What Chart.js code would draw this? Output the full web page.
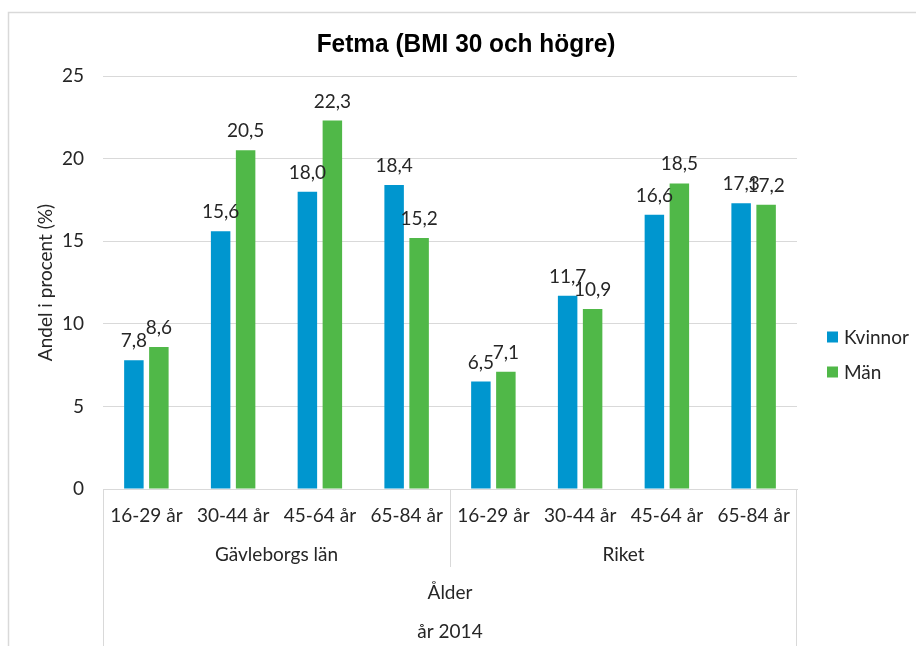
<!DOCTYPE html>
<html>
<head>
<meta charset="utf-8">
<script src="https://cdn.jsdelivr.net/npm/chart.js@4.4.1/dist/chart.umd.min.js"></script>
<style>
    html, body { margin: 0; padding: 0; background: #fff; }
    #wrap { width: 916px; height: 646px; position: relative; }
</style>
</head>
<body>
<div id="wrap"><canvas id="fetmaChart"></canvas></div>
<script>
// Age groups, repeated for each region
const ageGroups = ['16-29 år', '30-44 år', '45-64 år', '65-84 år', '16-29 år', '30-44 år', '45-64 år', '65-84 år'];
const regions = ['Gävleborgs län', 'Riket'];
const kvinnor = [7.8, 15.6, 18.0, 18.4, 6.5, 11.7, 16.6, 17.3];
const man = [8.6, 20.5, 22.3, 15.2, 7.1, 10.9, 18.5, 17.2];
const yTicks = [0, 5, 10, 15, 20, 25];

const FONT = 'Lato, "Open Sans", sans-serif';
const TEXT = '#262626';
const LINE = '#d9d9d9';

function fmt(v) {
    return v.toFixed(1).replace('.', ',');
}

// Frame, title, value labels, region labels and legend
const decorations = {
    id: 'decorations',
    beforeDraw(chart) {
        const ctx = chart.ctx;
        ctx.save();
        ctx.fillStyle = '#fff';
        ctx.fillRect(0, 0, chart.width, chart.height);
        ctx.strokeStyle = LINE;
        ctx.lineWidth = 1.5;
        ctx.beginPath();
        ctx.moveTo(8.5, chart.height);
        ctx.lineTo(8.5, 12.5);
        ctx.lineTo(chart.width, 12.5);
        ctx.stroke();
        ctx.restore();
    },
    afterDraw(chart) {
        const ctx = chart.ctx;
        const area = chart.chartArea;
        const x = chart.scales.x;
        ctx.save();

        // title, slightly condensed
        ctx.save();
        ctx.translate(466, 52);
        ctx.scale(0.94, 1);
        ctx.fillStyle = '#000';
        ctx.font = 'bold 26px "Liberation Sans", Arial, sans-serif';
        ctx.textAlign = 'center';
        ctx.textBaseline = 'alphabetic';
        ctx.fillText('Fetma (BMI 30 och högre)', 0, 0);
        ctx.restore();

        // value labels above the bars
        ctx.font = '19px ' + FONT;
        ctx.fillStyle = TEXT;
        ctx.textAlign = 'center';
        ctx.textBaseline = 'alphabetic';
        chart.data.datasets.forEach((ds, i) => {
            chart.getDatasetMeta(i).data.forEach((bar, j) => {
                ctx.fillText(fmt(ds.data[j]), bar.x, bar.y - 13);
            });
        });

        // separators of the multi-level category axis
        const half = (x.getPixelForValue(1) - x.getPixelForValue(0)) / 2;
        const mid = (x.getPixelForValue(3) + x.getPixelForValue(4)) / 2;
        ctx.strokeStyle = LINE;
        ctx.lineWidth = 1;
        ctx.beginPath();
        ctx.moveTo(Math.round(area.left) + 0.5, area.bottom);
        ctx.lineTo(Math.round(area.left) + 0.5, chart.height);
        ctx.moveTo(Math.round(area.right) - 0.5, area.bottom);
        ctx.lineTo(Math.round(area.right) - 0.5, chart.height);
        ctx.moveTo(Math.round(mid) + 0.5, area.bottom);
        ctx.lineTo(Math.round(mid) + 0.5, 567);
        ctx.stroke();

        // region and axis titles
        ctx.textBaseline = 'middle';
        const gStart = x.getPixelForValue(0) - half;
        ctx.fillText(regions[0], (gStart + mid) / 2, 555);
        ctx.fillText(regions[1], (mid + x.getPixelForValue(7) + half) / 2, 555);
        ctx.fillText('Ålder', (area.left + area.right) / 2, 593);
        ctx.fillText('år 2014', (area.left + area.right) / 2, 632);

        // legend
        ctx.textAlign = 'left';
        chart.data.datasets.forEach((ds, i) => {
            const cy = 337 + i * 35;
            ctx.fillStyle = ds.backgroundColor;
            ctx.fillRect(827, cy - 5.5, 11, 11);
            ctx.fillStyle = TEXT;
            ctx.fillText(ds.label, 844, cy + 1);
        });
        ctx.restore();
    }
};

const ctx = document.getElementById('fetmaChart').getContext('2d');
new Chart(ctx, {
    type: 'bar',
    data: {
        labels: ageGroups,
        datasets: [{
            label: 'Kvinnor',
            data: kvinnor,
            backgroundColor: '#0096cf',
            categoryPercentage: 0.576,
            barPercentage: 0.78
        }, {
            label: 'Män',
            data: man,
            backgroundColor: '#50b848',
            categoryPercentage: 0.576,
            barPercentage: 0.78
        }]
    },
    options: {
        responsive: true,
        maintainAspectRatio: false,
        animation: false,
        layout: {
            padding: { left: 9, top: 76, right: 119, bottom: 0 }
        },
        plugins: {
            legend: { display: false },
            title: { display: false },
            tooltip: { enabled: false }
        },
        scales: {
            x: {
                grid: { display: false, drawTicks: false },
                border: { display: true, color: LINE, width: 1 },
                ticks: {
                    font: { family: FONT, size: 19 },
                    color: TEXT,
                    padding: 15,
                    maxRotation: 0,
                    autoSkip: false
                },
                afterFit(scale) { scale.height = 157; }
            },
            y: {
                min: 0,
                max: 25,
                afterBuildTicks(scale) {
                    scale.ticks = yTicks.map(v => ({ value: v }));
                },
                grid: { color: LINE, drawTicks: false },
                border: { display: false },
                ticks: {
                    font: { family: FONT, size: 19 },
                    color: TEXT,
                    padding: 19
                },
                title: {
                    display: true,
                    text: 'Andel i procent (%)',
                    font: { family: FONT, size: 19 },
                    color: TEXT,
                    padding: { top: 25, bottom: 0 }
                },
                afterFit(scale) { scale.width = 94; }
            }
        }
    },
    plugins: [decorations]
});
</script>
</body>
</html>
